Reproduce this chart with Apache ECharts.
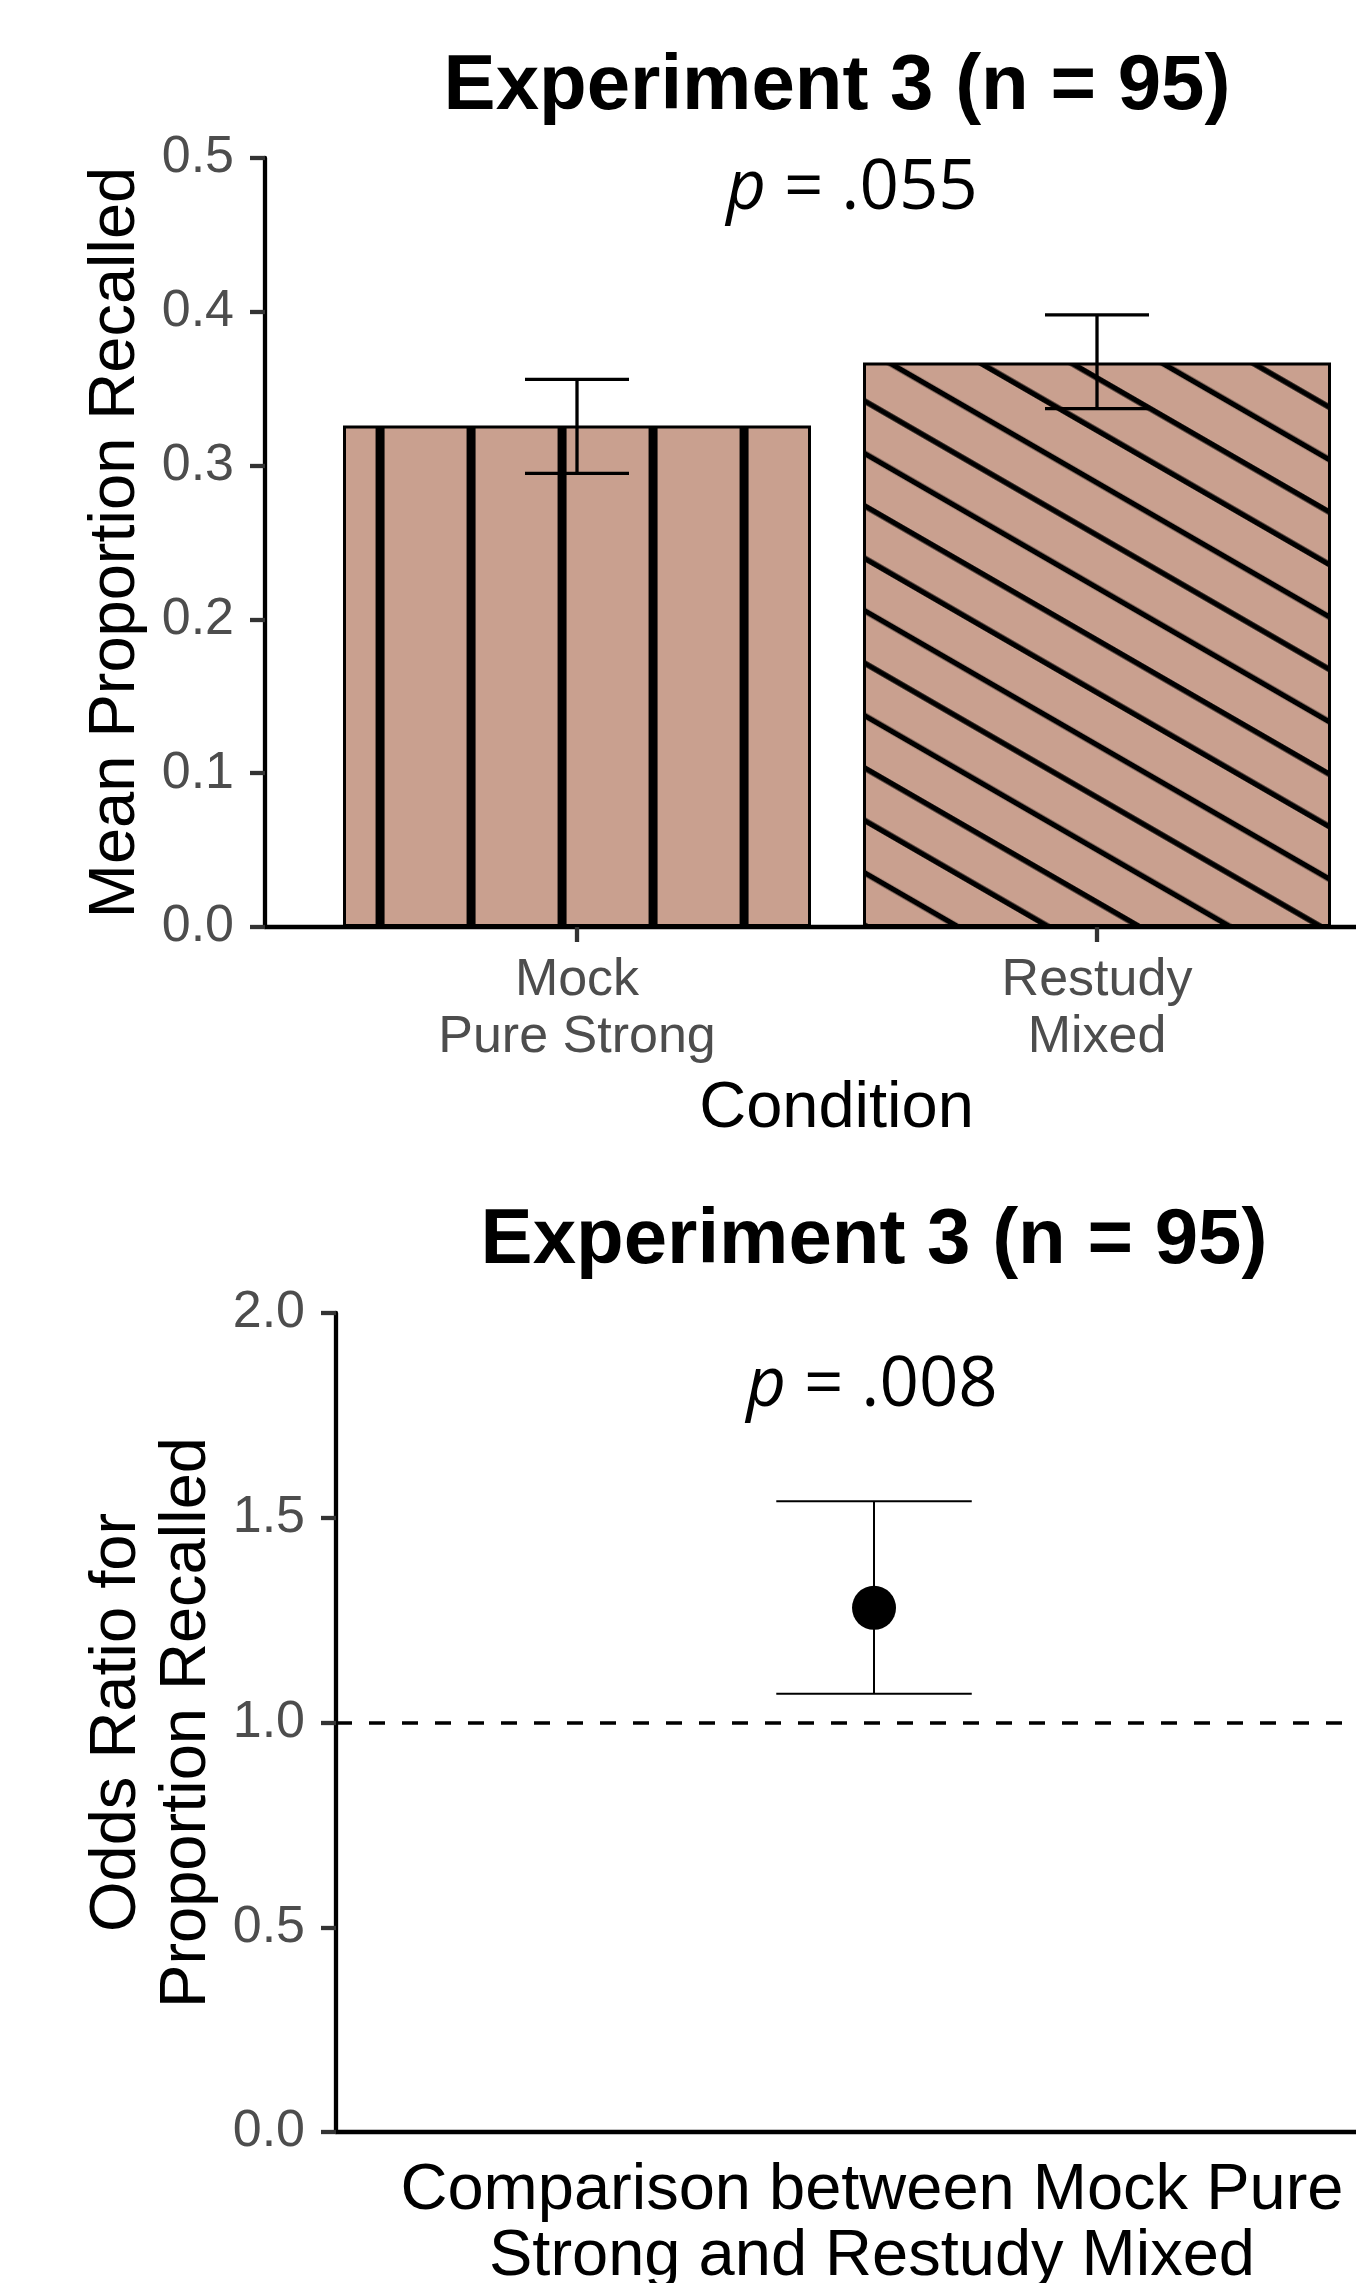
<!DOCTYPE html>
<html>
<head>
<meta charset="utf-8">
<title>Experiment 3 (n = 95)</title>
<script src="https://cdn.jsdelivr.net/npm/echarts@6/dist/echarts.min.js"></script>
<style>
  html, body { margin: 0; padding: 0; background: #fff; }
  #chart { width: 1356px; height: 2283px; }
</style>
</head>
<body>
<div id="chart"></div>
<script>
// top panel: mean proportion recalled per condition
const conditions = ['Mock\nPure Strong', 'Restudy\nMixed']
const meanRecall = [0.326, 0.367]
const recallLow = [0.295, 0.337]
const recallHigh = [0.356, 0.398]
const recallTicks = [0, 0.1, 0.2, 0.3, 0.4, 0.5]

// bottom panel: odds ratio for the comparison
const comparison = ['Comparison between Mock Pure\nStrong and Restudy Mixed']
const oddsRatio = [1.28]
const oddsLow = [1.07]
const oddsHigh = [1.54]
const oddsTicks = [0, 0.5, 1, 1.5, 2]
const oddsReference = 1

const pValues = ['.055', '.008']

const FONT = '"Liberation Sans", Arial, sans-serif'
const BAR_FILL = '#c9a08f'

// stripe tiles used as pattern fills
function stripeTile(w, h, draw) {
  const c = document.createElement('canvas')
  c.width = w
  c.height = h
  const ctx = c.getContext('2d')
  ctx.fillStyle = BAR_FILL
  ctx.fillRect(0, 0, w, h)
  ctx.fillStyle = '#000'
  draw(ctx)
  return c
}
const verticalStripes = stripeTile(91, 10, ctx => {
  ctx.fillRect(41, 0, 9, 10)
})
const diagonalStripes = stripeTile(20, 454, ctx => {
  for (let k = 0; k < 10; k++) {
    ctx.fillRect(0, 5.8 + 45.4 * k - 2.75, 20, 5.5)
  }
})

function errorBar(halfWidth, lineWidth) {
  return function(params, api) {
    const x = api.value(0)
    const top = api.coord([x, api.value(2)])
    const bot = api.coord([x, api.value(1)])
    const l = api.coord([x - halfWidth, api.value(2)])[0]
    const r = api.coord([x + halfWidth, api.value(2)])[0]
    const style = { stroke: '#000', lineWidth: lineWidth }
    return {
      type: 'group',
      children: [
        { type: 'line', shape: { x1: top[0], y1: top[1], x2: bot[0], y2: bot[1] }, style },
        { type: 'line', shape: { x1: l, y1: top[1], x2: r, y2: top[1] }, style },
        { type: 'line', shape: { x1: l, y1: bot[1], x2: r, y2: bot[1] }, style }
      ]
    }
  }
}

const axisCommon = {
  axisLine: { lineStyle: { color: '#000', width: 4.3 } },
  axisTick: { length: 15, lineStyle: { color: '#333', width: 4.3 } },
  splitLine: { show: false },
  nameTextStyle: { color: '#000', fontSize: 65, fontFamily: FONT }
}

// panels are cut off by the right edge of the picture
const grid0 = { left: 265, top: 158, width: 1091, height: 769, outerBoundsMode: 'none' }
const grid1 = { left: 336, top: 1313, width: 1020, height: 819, outerBoundsMode: 'none' }
const unit0 = 520
const unit1 = 896.7
const barWidth = 0.9 * unit0

const chart = echarts.init(document.getElementById('chart'))
chart.setOption({
  animation: false,
  backgroundColor: '#fff',
  grid: [grid0, grid1],
  xAxis: [{
    ...axisCommon,
    gridIndex: 0,
    type: 'value',
    min: 0.4,
    max: 0.4 + grid0.width / unit0,
    name: 'Condition',
    nameLocation: 'middle',
    nameGap: 150,
    nameTextStyle: { ...axisCommon.nameTextStyle, padding: [0, 0, 0, 52] },
    axisTick: { ...axisCommon.axisTick, customValues: [1, 2] },
    axisLabel: {
      customValues: [1, 2],
      formatter: v => conditions[Math.round(v) - 1],
      color: '#4d4d4d',
      fontSize: 52,
      lineHeight: 57,
      fontFamily: FONT,
      margin: 25
    }
  }, {
    ...axisCommon,
    gridIndex: 1,
    type: 'value',
    min: 0.4,
    max: 0.4 + grid1.width / unit1,
    name: comparison[0],
    nameLocation: 'middle',
    nameGap: 26,
    nameTextStyle: { ...axisCommon.nameTextStyle, lineHeight: 66, padding: [0, 0, 0, 52] },
    axisTick: { show: false },
    axisLabel: { show: false }
  }],
  yAxis: [{
    ...axisCommon,
    gridIndex: 0,
    type: 'value',
    min: recallTicks[0],
    max: recallTicks[recallTicks.length - 1],
    interval: 0.1,
    name: 'Mean Proportion Recalled',
    nameLocation: 'middle',
    nameGap: 116,
    axisLabel: {
      formatter: v => v.toFixed(1),
      color: '#4d4d4d',
      fontSize: 52,
      fontFamily: FONT,
      margin: 31
    }
  }, {
    ...axisCommon,
    gridIndex: 1,
    type: 'value',
    min: oddsTicks[0],
    max: oddsTicks[oddsTicks.length - 1],
    interval: 0.5,
    name: 'Odds Ratio for\nProportion Recalled',
    nameLocation: 'middle',
    nameGap: 114,
    nameTextStyle: { ...axisCommon.nameTextStyle, lineHeight: 70 },
    axisLabel: {
      formatter: v => v.toFixed(1),
      color: '#4d4d4d',
      fontSize: 52,
      fontFamily: FONT,
      margin: 31
    }
  }],
  graphic: [{
    type: 'text', x: 837, y: 87,
    style: { text: 'Experiment 3 (n = 95)', fontSize: 78, fontWeight: 'bold', fontFamily: FONT, fill: '#000', align: 'center', verticalAlign: 'middle' }
  }, {
    type: 'text', x: 852, y: 189,
    style: {
      text: '{i|p}{n| = ' + pValues[0] + '}',
      align: 'center', verticalAlign: 'middle',
      rich: {
        i: { fontStyle: 'italic', fontSize: 69, fontFamily: '"Open Sans"', fill: '#000' },
        n: { fontSize: 69, fontFamily: '"Open Sans"', fill: '#000' }
      }
    }
  }, {
    type: 'text', x: 874, y: 1241,
    style: { text: 'Experiment 3 (n = 95)', fontSize: 78, fontWeight: 'bold', fontFamily: FONT, fill: '#000', align: 'center', verticalAlign: 'middle' }
  }, {
    type: 'text', x: 872, y: 1386,
    style: {
      text: '{i|p}{n| = ' + pValues[1] + '}',
      align: 'center', verticalAlign: 'middle',
      rich: {
        i: { fontStyle: 'italic', fontSize: 69, fontFamily: '"Open Sans"', fill: '#000' },
        n: { fontSize: 69, fontFamily: '"Open Sans"', fill: '#000' }
      }
    }
  }],
  series: [{
    type: 'bar',
    xAxisIndex: 0,
    yAxisIndex: 0,
    barWidth: barWidth,
    data: [{
      value: [1, meanRecall[0]],
      itemStyle: { color: { image: verticalStripes, repeat: 'repeat', x: 334.5, y: 0 } }
    }, {
      value: [2, meanRecall[1]],
      itemStyle: { color: { image: diagonalStripes, repeat: 'repeat', rotation: Math.PI / 6 } }
    }],
    itemStyle: { borderColor: '#000', borderWidth: 3 },
    z: 2
  }, {
    type: 'custom',
    xAxisIndex: 0,
    yAxisIndex: 0,
    renderItem: errorBar(0.1, 3.3),
    encode: { x: 0, y: [1, 2] },
    data: meanRecall.map((m, i) => [i + 1, recallLow[i], recallHigh[i]]),
    z: 3
  }, {
    type: 'custom',
    xAxisIndex: 1,
    yAxisIndex: 1,
    renderItem: errorBar(0.109, 2),
    encode: { x: 0, y: [1, 2] },
    data: oddsRatio.map((m, i) => [i + 1, oddsLow[i], oddsHigh[i]]),
    z: 3
  }, {
    type: 'scatter',
    xAxisIndex: 1,
    yAxisIndex: 1,
    symbolSize: 44,
    itemStyle: { color: '#000', opacity: 1 },
    data: oddsRatio.map((m, i) => [i + 1, m]),
    markLine: {
      silent: true,
      symbol: 'none',
      label: { show: false },
      lineStyle: { color: '#000', type: [16, 17], width: 3.5 },
      data: [{ yAxis: oddsReference }]
    },
    z: 4
  }]
})
</script>
</body>
</html>
